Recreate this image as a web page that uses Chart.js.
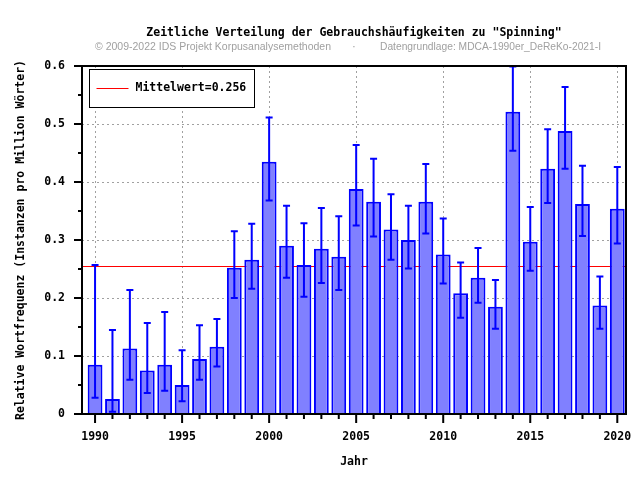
<!DOCTYPE html>
<html>
<head>
<meta charset="utf-8">
<script src="https://cdn.jsdelivr.net/npm/chart.js@4.4.1/dist/chart.umd.min.js"></script>
<style>
html, body { margin: 0; padding: 0; background: #fff; }
</style>
</head>
<body>
<canvas id="chart" width="640" height="480"></canvas>
<script>
// Daten
const jahre = [1990, 1991, 1992, 1993, 1994, 1995, 1996, 1997, 1998, 1999,
               2000, 2001, 2002, 2003, 2004, 2005, 2006, 2007, 2008, 2009,
               2010, 2011, 2012, 2013, 2014, 2015, 2016, 2017, 2018, 2019, 2020];
const werte = [0.085, 0.026, 0.113, 0.075, 0.085, 0.050, 0.095, 0.116, 0.252, 0.266,
               0.435, 0.290, 0.257, 0.285, 0.271, 0.388, 0.366, 0.318, 0.300, 0.366,
               0.275, 0.208, 0.235, 0.185, 0.521, 0.297, 0.423, 0.488, 0.362, 0.187, 0.354];
const fehlerOben = [0.257, 0.145, 0.214, 0.157, 0.176, 0.110, 0.153, 0.164, 0.315, 0.328,
                    0.511, 0.359, 0.329, 0.355, 0.341, 0.464, 0.440, 0.379, 0.359, 0.431,
                    0.337, 0.261, 0.286, 0.231, 0.599, 0.357, 0.491, 0.564, 0.428, 0.237, 0.426];
const fehlerUnten = [0.028, 0.004, 0.059, 0.036, 0.040, 0.022, 0.059, 0.082, 0.200, 0.216,
                     0.368, 0.235, 0.202, 0.226, 0.214, 0.325, 0.306, 0.266, 0.251, 0.311,
                     0.225, 0.166, 0.192, 0.147, 0.454, 0.247, 0.364, 0.423, 0.307, 0.147, 0.294];
const mittelwert = 0.256;
const yTicks = [0, 0.1, 0.2, 0.3, 0.4, 0.5, 0.6];
const xTicks = jahre.filter(j => j % 5 === 0);

const mono = { family: "'DejaVu Sans Mono', monospace", size: 11.5, weight: 'bold' };
const grau = '#a0a0a0';
const blau = '#0000ff';

const zusatzPlugin = {
    id: 'zusatz',
    beforeDraw(chart) {
        const c = chart.ctx;
        c.save();
        c.fillStyle = '#fff';
        c.fillRect(0, 0, chart.width, chart.height);
        c.restore();
    },
    beforeDatasetsDraw(chart) {
        // Mittelwert-Linie hinter den Balken
        const { ctx: c, chartArea: a, scales: { y } } = chart;
        const py = Math.round(y.getPixelForValue(mittelwert)) + 0.5;
        c.save();
        c.strokeStyle = '#ff0000';
        c.lineWidth = 1;
        c.beginPath();
        c.moveTo(a.left, py);
        c.lineTo(a.right, py);
        c.stroke();
        c.restore();
    },
    afterDatasetsDraw(chart) {
        const { ctx: c, chartArea: a, scales: { x, y } } = chart;
        c.save();

        // Fehlerbalken
        c.strokeStyle = blau;
        c.lineWidth = 2;
        jahre.forEach((j, i) => {
            const px = x.getPixelForValue(j);
            const oben = y.getPixelForValue(fehlerOben[i]);
            const unten = y.getPixelForValue(fehlerUnten[i]);
            c.beginPath();
            c.moveTo(px, oben);
            c.lineTo(px, unten);
            c.moveTo(px - 3.5, oben);
            c.lineTo(px + 3.5, oben);
            c.moveTo(px - 3.5, unten);
            c.lineTo(px + 3.5, unten);
            c.stroke();
        });

        // Rahmen
        c.strokeStyle = '#000';
        c.lineWidth = 2;
        c.strokeRect(a.left, a.top, a.right - a.left, a.bottom - a.top);

        // Striche an der y-Achse
        c.beginPath();
        yTicks.forEach((t, i) => {
            const py = y.getPixelForValue(t);
            c.moveTo(a.left - 8, py);
            c.lineTo(a.left, py);
            if (i < yTicks.length - 1) {
                const pm = y.getPixelForValue((t + yTicks[i + 1]) / 2);
                c.moveTo(a.left - 4, pm);
                c.lineTo(a.left, pm);
            }
        });
        // Striche an der x-Achse
        jahre.forEach(j => {
            const px = x.getPixelForValue(j);
            c.moveTo(px, a.bottom);
            c.lineTo(px, a.bottom + (j % 5 === 0 ? 9 : 5));
        });
        c.stroke();

        // Legende
        const lx = a.left + 7.5, ly = a.top + 3.5;
        c.fillStyle = '#fff';
        c.fillRect(lx, ly, 165, 38);
        c.lineWidth = 1;
        c.strokeRect(lx, ly, 165, 38);
        c.strokeStyle = '#ff0000';
        c.beginPath();
        c.moveTo(lx + 7, ly + 19);
        c.lineTo(lx + 39, ly + 19);
        c.stroke();
        c.fillStyle = '#000';
        c.font = `bold ${mono.size}px ${mono.family}`;
        c.textBaseline = 'middle';
        c.textAlign = 'left';
        c.fillText('Mittelwert=' + mittelwert.toFixed(3), lx + 46, ly + 19);

        c.restore();
    },
    afterDraw(chart) {
        const { ctx: c, chartArea: a } = chart;
        c.save();
        c.textBaseline = 'middle';
        c.fillStyle = '#000';
        c.font = `bold ${mono.size}px ${mono.family}`;
        c.textAlign = 'center';
        c.fillText('Zeitliche Verteilung der Gebrauchshäufigkeiten zu "Spinning"', (a.left + a.right) / 2, 33);

        c.fillStyle = grau;
        c.font = "11.5px 'Liberation Sans', Arial, sans-serif";
        c.textAlign = 'left';
        c.fillText('© 2009-2022 IDS Projekt Korpusanalysemethoden', 95, 47, 236);
        c.fillText('·', 352, 47);
        c.fillText('Datengrundlage: MDCA-1990er_DeReKo-2021-I', 380, 47, 221);
        c.restore();
    }
};

new Chart(document.getElementById('chart'), {
    type: 'bar',
    data: {
        datasets: [{
            data: jahre.map((j, i) => ({ x: j, y: werte[i] })),
            backgroundColor: 'rgb(128, 128, 255)',
            borderColor: blau,
            borderWidth: 2,
            barPercentage: 0.85,
            categoryPercentage: 1.0
        }]
    },
    options: {
        responsive: false,
        animation: false,
        devicePixelRatio: 1,
        layout: { padding: { top: 66, right: 14, left: 0, bottom: 0 } },
        plugins: {
            legend: { display: false },
            tooltip: { enabled: false }
        },
        scales: {
            x: {
                type: 'linear',
                min: 1989.25,
                max: 2020.5,
                offset: false,
                afterFit(s) {
                    s.height = 66;
                    s.paddingLeft = 0;
                    s.paddingRight = 0;
                },
                afterBuildTicks(s) { s.ticks = xTicks.map(v => ({ value: v })); },
                ticks: {
                    autoSkip: false,
                    maxRotation: 0,
                    padding: 16,
                    color: '#000',
                    font: mono,
                    callback: v => String(v)
                },
                grid: {
                    drawTicks: false,
                    offset: false,
                    lineWidth: 1,
                    color: grau
                },
                border: { display: false, dash: [2, 3] },
                title: {
                    display: true,
                    text: 'Jahr',
                    color: '#000',
                    font: mono,
                    padding: { top: 0, bottom: 11 }
                }
            },
            y: {
                min: 0,
                max: 0.6,
                afterFit(s) { s.width = 82; },
                ticks: {
                    stepSize: 0.1,
                    padding: 17,
                    color: '#000',
                    font: mono
                },
                grid: {
                    drawTicks: false,
                    lineWidth: 1,
                    color: ctx => (ctx.tick && ctx.tick.value > 0 && ctx.tick.value < 0.6 ? grau : 'rgba(0,0,0,0)')
                },
                border: { display: false, dash: [2, 3] },
                title: {
                    display: true,
                    text: 'Relative Wortfrequenz (Instanzen pro Million Wörter)',
                    color: '#000',
                    font: mono,
                    padding: { top: 14, bottom: 0 }
                }
            }
        }
    },
    plugins: [zusatzPlugin]
});
</script>
</body>
</html>
